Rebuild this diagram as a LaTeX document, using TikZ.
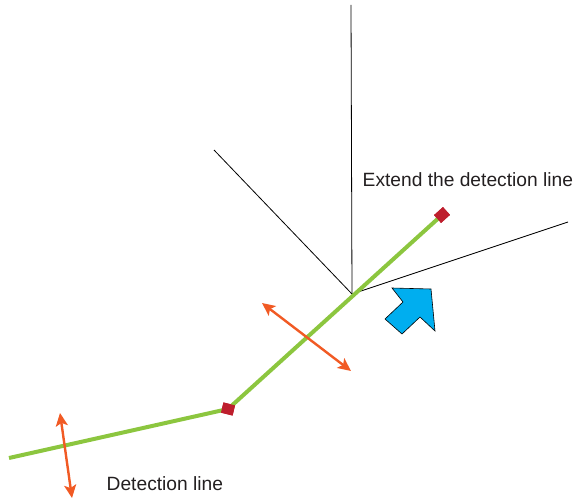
\documentclass[tikz,border=0pt]{standalone}
\usepackage{fontspec}
\setmainfont{Liberation Sans}
\usetikzlibrary{arrows.meta}
\definecolor{greenline}{HTML}{8CC63F}
\definecolor{redsq}{HTML}{BE1E2D}
\definecolor{orangearr}{HTML}{F15A24}
\definecolor{bluearr}{HTML}{00AEEF}
\definecolor{txtcol}{HTML}{231F20}
\tikzset{
  sqmark/.style={draw=none,fill=redsq,rectangle,minimum width=12pt,minimum height=10.5pt,inner sep=0pt},
  thinline/.style={draw=black,line width=0.8pt},
  detline/.style={draw=greenline,line width=4pt},
  dblarrow/.style={draw=orangearr,line width=2.4pt,{Stealth[length=13pt,width=12pt,inset=3pt]}-{Stealth[length=13pt,width=12pt,inset=3pt]}},
  lbl/.style={inner sep=0pt,anchor=base west,text=txtcol,font=\fontsize{19.2}{22}\selectfont}
}
\begin{document}
\begin{tikzpicture}[x=1pt,y=-1pt]
\useasboundingbox (0,0) rectangle (576,500);
% black thin lines
\coordinate (apex) at (352,294);
\coordinate (top) at (351,5);
\coordinate (left) at (214,150);
\coordinate (right) at (568,222);
\draw[thinline] (apex) -- (top);
\draw[thinline] (apex) -- (left);
\draw[thinline] (apex) -- (right);
% detection line
\coordinate (start) at (9,458);
\node[sqmark,rotate=-14] (bend) at (228,409) {};
\node[sqmark,rotate=42] (end) at (442,215) {};
\draw[detline] (start) -- (bend.center) -- (end.center);
\node[sqmark,rotate=-14] at (228,409) {};
\node[sqmark,rotate=42] at (442,215) {};
% orange arrows
\coordinate (a1) at (60,413);
\coordinate (a2) at (72,498);
\draw[dblarrow] (a1) -- (a2);
\coordinate (b1) at (262,303);
\coordinate (b2) at (351,371);
\draw[dblarrow] (b1) -- (b2);
% blue block arrow
\draw[fill=bluearr,draw=black,line width=0.6pt,line join=miter]
  (431,289) -- (392,288) -- (403,302) -- (385,319) -- (402,334) -- (420,317) -- (435,331) -- cycle;
% labels
\node[lbl] (ext) at (362.5,186) {Extend the detection line};
\node[lbl] (det) at (106.5,490) {Detection line};
\end{tikzpicture}
\end{document}
